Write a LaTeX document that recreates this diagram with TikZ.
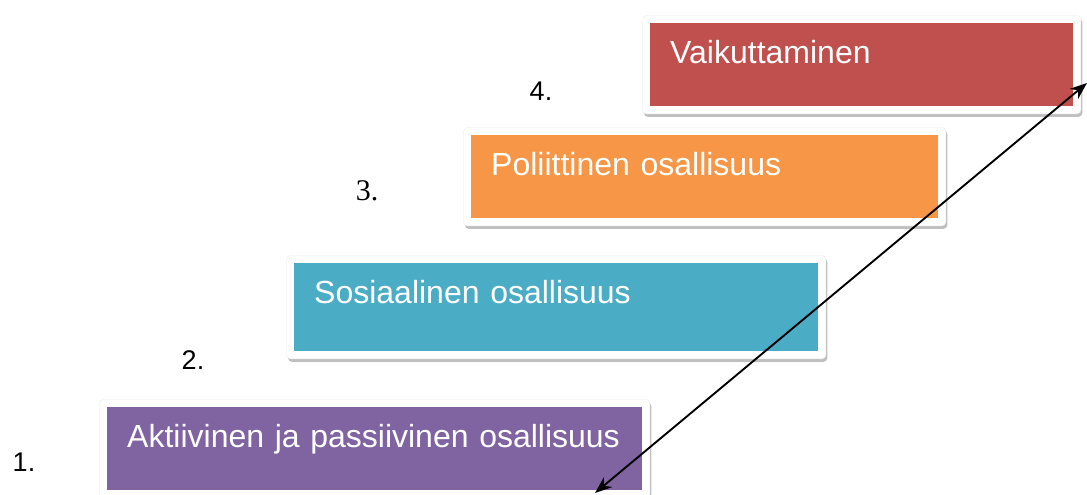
\documentclass[tikz,border=0pt]{standalone}
\usepackage{fontspec}
\setmainfont{Liberation Sans}
\newfontfamily\numserif{Liberation Serif}
\usetikzlibrary{
  positioning,
  fit,
  backgrounds,
  shadows,
  arrows.meta,
  calc
}
\definecolor{step1bg}{RGB}{128,100,162}
\definecolor{step2bg}{RGB}{75,172,198}
\definecolor{step3bg}{RGB}{247,150,70}
\definecolor{step4bg}{RGB}{192,80,77}

\begin{document}
\begin{tikzpicture}[
      x=1pt,
      y=1pt,
      >={Stealth[length=17pt,width=13pt]},
      stepbox/.style={
        rectangle,
        draw=none,
        anchor=north west,
        text=white,
        align=left,
        text width=#1,
        inner xsep=20pt,
        inner ysep=0pt,
        text height=40pt,
        text depth=43pt,
        font=\fontsize{32}{38}\selectfont
      },
      stepframe/.style={
        rectangle,
        rounded corners=4pt,
        fill=white,
        draw=black!8,
        inner sep=7.5pt,
        drop shadow={opacity=0.5,shadow xshift=1.5pt,shadow yshift=-3pt}
      },
      num/.style={
        font=\fontsize{27}{32}\selectfont
      },
      flow/.style={
        <->,
        line width=1.9pt,
        black
      }
    ]

    \useasboundingbox (0,0) rectangle (1087,495);

    % Coordinates
    \coordinate (corner1) at (107,88);
    \coordinate (corner2) at (294,232);
    \coordinate (corner3) at (471,360);
    \coordinate (corner4) at (650,472);

    % Steps
    \node[stepbox=495pt, fill=step1bg] (step1) at (corner1)
      {Aktiivinen ja passiivinen osallisuus};
    \node[stepbox=484pt, fill=step2bg, text depth=48pt] (step2) at (corner2)
      {Sosiaalinen osallisuus};
    \node[stepbox=427pt, fill=step3bg] (step3) at (corner3)
      {Poliittinen osallisuus};
    \node[stepbox=383pt, fill=step4bg] (step4) at (corner4)
      {Vaikuttaminen};

    \begin{scope}[on background layer]
      \node[stepframe, fit=(step1)] (frame1) {};
      \node[stepframe, fit=(step2)] (frame2) {};
      \node[stepframe, fit=(step3)] (frame3) {};
      \node[stepframe, fit=(step4)] (frame4) {};
    \end{scope}

    % Numbers
    \node[num] (num1) at ($(step1.south west)+(-83,28)$) {1.};
    \node[num] (num2) at ($(step2.south west)+(-101,-9)$) {2.};
    \node[num, font=\numserif\fontsize{30}{36}\selectfont] (num3)
      at ($(step3.south west)+(-104,28)$) {3.};
    \node[num] (num4) at ($(step4.south west)+(-109,15)$) {4.};

    % Arrow
    \coordinate (low) at (595,2);
    \coordinate (high) at (1087,412);
    \draw[flow] (low) -- (high);

    \end{tikzpicture}
\end{document}
